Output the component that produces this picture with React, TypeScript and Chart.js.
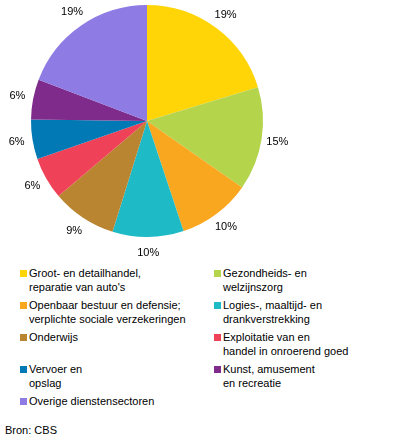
import React, { useEffect, useRef } from "react";
import { Chart, registerables } from "chart.js";

Chart.register(...registerables);

const categories = [
  "Groot- en detailhandel, reparatie van auto's",
  "Gezondheids- en welzijnszorg",
  "Openbaar bestuur en defensie; verplichte sociale verzekeringen",
  "Logies-, maaltijd- en drankverstrekking",
  "Onderwijs",
  "Exploitatie van en handel in onroerend goed",
  "Vervoer en opslag",
  "Kunst, amusement en recreatie",
  "Overige dienstensectoren",
];
const values = [20.3, 14.4, 10.2, 9.9, 9.0, 5.9, 5.5, 5.6, 19.2];
const valueLabels = ["19%", "15%", "10%", "10%", "9%", "6%", "6%", "6%", "19%"];
const colors = [
  "#FFD508",
  "#B4D44C",
  "#F8A71F",
  "#1EBBC6",
  "#BA8530",
  "#EF4157",
  "#0079B4",
  "#7E2B8B",
  "#8E7BE3",
];
const legendLines = [
  ["Groot- en detailhandel,", "reparatie van auto's"],
  ["Gezondheids- en", "welzijnszorg"],
  ["Openbaar bestuur en defensie;", "verplichte sociale verzekeringen"],
  ["Logies-, maaltijd- en", "drankverstrekking"],
  ["Onderwijs"],
  ["Exploitatie van en", "handel in onroerend goed"],
  ["Vervoer en", "opslag"],
  ["Kunst, amusement", "en recreatie"],
  ["Overige dienstensectoren"],
];
const source = "Bron: CBS";

const FONT = "Arial, 'Liberation Sans', sans-serif";

const outsideLabels = {
  id: "outsideLabels",
  afterDatasetsDraw(chart: any) {
    const ctx = chart.ctx;
    const meta = chart.getDatasetMeta(0);
    ctx.save();
    ctx.font = `11px ${FONT}`;
    ctx.fillStyle = "#000";
    ctx.textAlign = "center";
    ctx.textBaseline = "middle";
    meta.data.forEach((arc: any, i: number) => {
      const mid = (arc.startAngle + arc.endAngle) / 2;
      const r = arc.outerRadius + 16;
      ctx.fillText(valueLabels[i], arc.x + Math.cos(mid) * r, arc.y + Math.sin(mid) * r);
    });
    ctx.restore();
  },
};

export default function App() {
  const ref = useRef<HTMLCanvasElement>(null);
  useEffect(() => {
    const chart = new Chart(ref.current!, {
      type: "pie",
      data: {
        labels: categories,
        datasets: [{ data: values, backgroundColor: colors, borderWidth: 0 }],
      },
      options: {
        animation: false,
        responsive: false,
        layout: { padding: { left: 31, top: 5, right: 133, bottom: 25 } },
        plugins: { legend: { display: false }, tooltip: { enabled: false } },
      },
      plugins: [outsideLabels],
    });
    return () => chart.destroy();
  }, []);

  const rowTops = [266, 298, 330, 362, 394];
  return (
    <div
      style={{
        position: "absolute",
        left: 0,
        top: 0,
        width: 396,
        height: 441,
        background: "#fff",
        fontFamily: FONT,
        fontSize: 11,
        lineHeight: "14px",
        color: "#000",
      }}
    >
      <canvas ref={ref} width={396} height={262} style={{ position: "absolute", left: 0, top: 0 }} />
      {legendLines.map((lines, i) => {
        const col = i % 2;
        const row = Math.floor(i / 2);
        const sx = col === 0 ? 20 : 214;
        const tx = col === 0 ? 29 : 223;
        const top = rowTops[row];
        return (
          <React.Fragment key={i}>
            <div
              style={{
                position: "absolute",
                left: sx,
                top: top + 4,
                width: 7,
                height: 7,
                background: colors[i],
              }}
            />
            <div style={{ position: "absolute", left: tx, top, whiteSpace: "nowrap" }}>
              {lines.map((l, j) => (
                <div key={j}>{l}</div>
              ))}
            </div>
          </React.Fragment>
        );
      })}
      <div style={{ position: "absolute", left: 5, top: 423 }}>{source}</div>
    </div>
  );
}
